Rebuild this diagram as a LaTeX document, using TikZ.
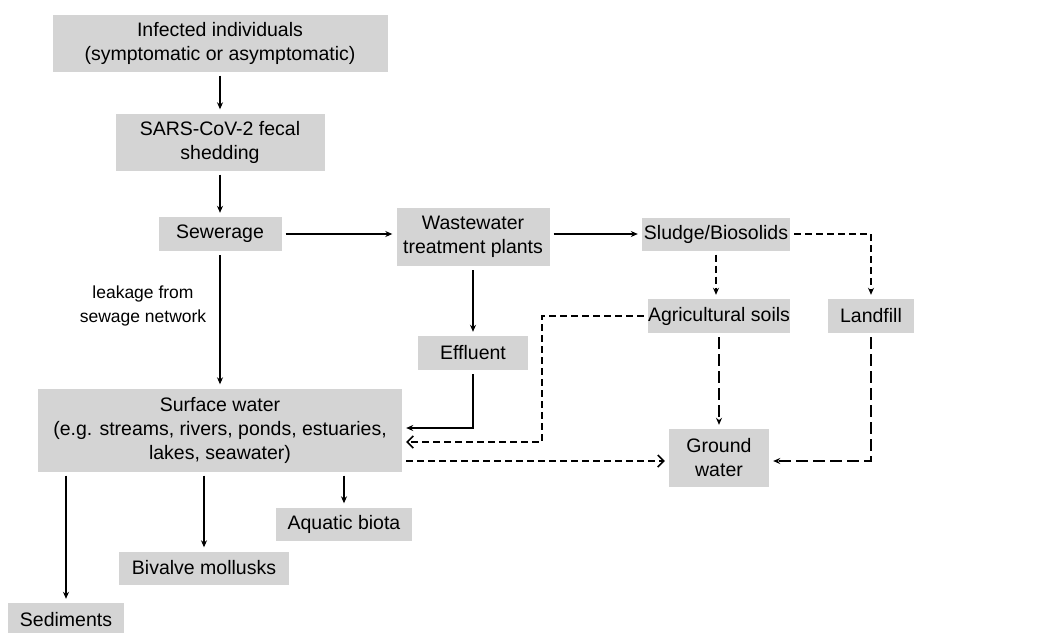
\documentclass[tikz,border=0pt]{standalone}
\usepackage{fontspec}
\setmainfont{Liberation Sans}
\usepackage{tikz}
\usetikzlibrary{arrows.meta,positioning,calc}
\definecolor{boxgray}{RGB}{212,212,212}

\begin{document}
\begin{tikzpicture}[x=1pt, y=-1pt,
      font=\fontsize{19.5}{24}\selectfont,
      box/.style={fill=boxgray, align=center, inner sep=0pt},
      note/.style={font=\fontsize{17.5}{24}\selectfont, align=center},
      flow/.style={-{Stealth[length=7pt,width=6pt]}, line width=1.5pt,
                   shorten <=4pt, shorten >=4pt},
      dflow/.style={flow, dash pattern=on 7pt off 4pt},
      lflow/.style={flow, dash pattern=on 12pt off 5pt},
      oflow/.style={dflow, -{Straight Barb[length=6pt,width=12pt]}}]

    \useasboundingbox (0,0) rectangle (1044,632);

    \node[box, minimum width=335, minimum height=57] (infected) at (220,43)
      {Infected individuals\\(symptomatic or asymptomatic)};
    \node[box, minimum width=209, minimum height=57] (shedding) at (220,142)
      {SARS-CoV-2 fecal\\shedding};
    \node[box, minimum width=123, minimum height=34] (sewerage) at (220,234)
      {Sewerage};
    \node[box, minimum width=153, minimum height=58] (wwtp) at (473,237)
      {Wastewater\\treatment plants};
    \node[box, minimum width=148, minimum height=33] (sludge) at (716,234)
      {Sludge/Biosolids};
    \node[box, minimum width=140, minimum height=34] (agri) at (719,316)
      {Agricultural soils};
    \node[box, minimum width=86, minimum height=34] (landfill) at (871,316)
      {Landfill};
    \node[box, minimum width=110, minimum height=34] (effluent) at (473,353)
      {Effluent};
    \node[box, minimum width=364, minimum height=83] (surface) at (220,430)
      {Surface water\\(e.g. streams, rivers, ponds, estuaries,\\lakes, seawater)};
    \node[box, minimum width=100, minimum height=58] (ground) at (719,458)
      {Ground\\water};
    \node[box, minimum width=136, minimum height=33] (biota) at (344,524)
      {Aquatic biota};
    \node[box, minimum width=170, minimum height=33] (bivalve) at (204,568)
      {Bivalve mollusks};
    \node[box, minimum width=116, minimum height=34] (sediments) at (66,620)
      {Sediments};

    \node[note] (leak) at (143,306) {leakage from\\sewage network};

    \draw[flow] (infected) -- (shedding);
    \draw[flow] (shedding) -- (sewerage);
    \draw[flow] (sewerage.east) -- (sewerage.east -| wwtp.west);
    \draw[flow] (wwtp.east |- sludge.west) -- (sludge.west);
    \draw[flow] (sewerage) -- (surface);
    \draw[flow] (wwtp) -- (effluent);
    \draw[flow] (effluent.south) |- ([yshift=2pt]surface.east);
    \draw[oflow] (agri.west) -- ++(-106,0) |- ([yshift=-12pt]surface.east);
    \draw[oflow] ([yshift=-31pt]surface.east) -- ([yshift=-3pt]ground.west);
    \draw[dflow] (sludge.south) -- (sludge.south |- agri.north);
    \draw[dflow] (sludge.east) -| (landfill.north);
    \draw[lflow] (agri) -- (ground);
    \draw[lflow] (landfill.south) |- ([yshift=-3pt]ground.east);

    \draw[flow] (surface.south -| sediments) -- (sediments);
    \draw[flow] (surface.south -| bivalve) -- (bivalve);
    \draw[flow] (surface.south -| biota) -- (biota);
  \end{tikzpicture}
\end{document}
